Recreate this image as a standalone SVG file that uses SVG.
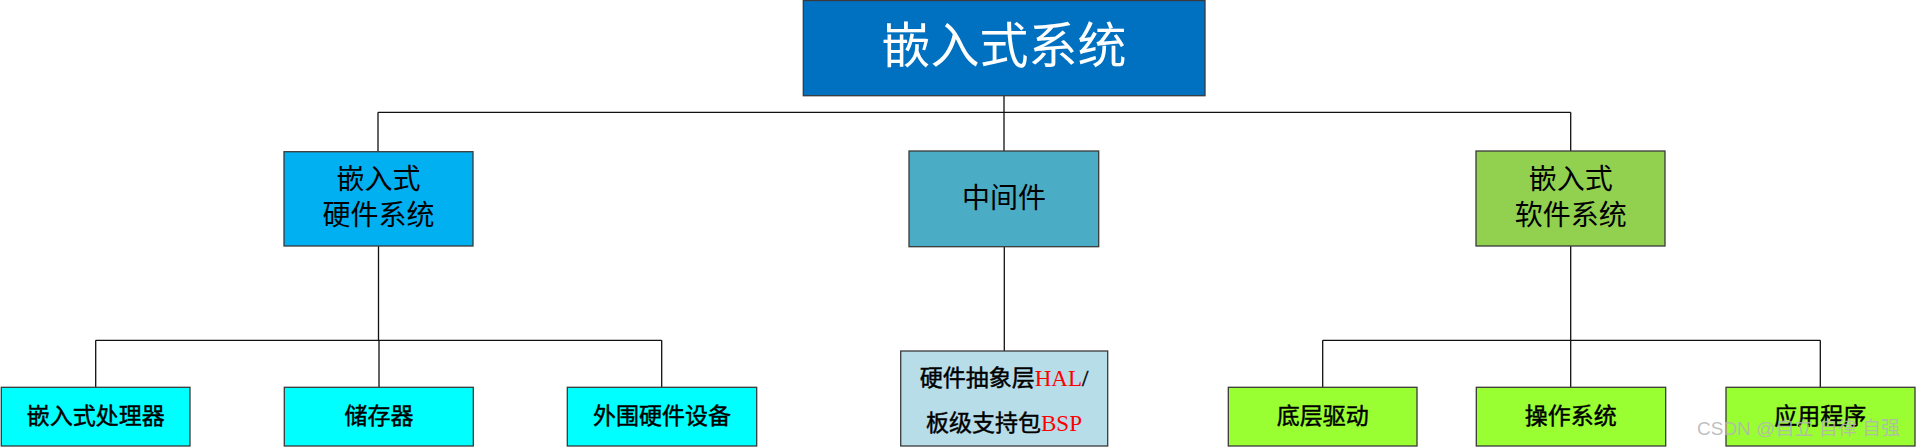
<svg xmlns="http://www.w3.org/2000/svg" width="1916" height="447" viewBox="0 0 1916 447">
<style>
.box{stroke:#3a3a3a;stroke-width:1.3}
.t{font-family:"Liberation Serif","Noto Sans CJK SC",serif;text-anchor:middle;fill:#000}
.t1{font-size:49px;fill:#fff}
.t2{font-size:28px}
.t3{font-size:23px;stroke:#000;stroke-width:0.45}
.red{fill:#ff0000;stroke:none}
.con{stroke:#111;stroke-width:1.3;fill:none}
</style>
<rect width="1916" height="447" fill="#fff"/>
<g id="connectors">
<path class="con" d="M1004 96V151M378 112.3H1570.7M378 112.3V152M1570.7 112.3V152"/>
<path class="con" d="M378.5 246V340.3M95.7 340.3H661.7M95.7 340.3V387.5M379 340.3V387.5M661.7 340.3V387.5"/>
<path class="con" d="M1004.3 246.7V351"/>
<path class="con" d="M1570.7 246V340.3M1322.7 340.3H1820.3M1322.7 340.3V387.5M1570.7 340.3V387.5M1820.3 340.3V387.5"/>
</g>
<g id="root">
<rect class="box" x="803.3" y="0.5" width="401.7" height="95.2" fill="#0070C0"/>
<text class="t t1" x="1004" y="63">嵌入式系统</text>
</g>
<g id="hw">
<rect class="box" x="284" y="151.7" width="189" height="94.3" fill="#00B0F0"/>
<text class="t t2" x="378.5" y="189">嵌入式</text>
<text class="t t2" x="378.5" y="225">硬件系统</text>
</g>
<g id="mw">
<rect class="box" x="909" y="151" width="189.7" height="95.7" fill="#4BACC6"/>
<text class="t t2" x="1004" y="208">中间件</text>
</g>
<g id="sw">
<rect class="box" x="1476" y="151" width="189" height="95" fill="#92D050"/>
<text class="t t2" x="1570.7" y="189">嵌入式</text>
<text class="t t2" x="1570.7" y="225">软件系统</text>
</g>
<g id="cpu">
<rect class="box" x="1.3" y="387.3" width="188.7" height="58.7" fill="#00FFFF"/>
<text class="t t3" x="95.7" y="424">嵌入式处理器</text>
</g>
<g id="mem">
<rect class="box" x="284.3" y="387.3" width="189" height="58.7" fill="#00FFFF"/>
<text class="t t3" x="379" y="424">储存器</text>
</g>
<g id="periph">
<rect class="box" x="567.3" y="387.3" width="189.4" height="58.7" fill="#00FFFF"/>
<text class="t t3" x="662" y="424">外围硬件设备</text>
</g>
<g id="hal">
<rect class="box" x="900.7" y="351" width="207" height="95" fill="#B7DDE8"/>
<text class="t t3" x="1004" y="386">硬件抽象层<tspan class="red">HAL</tspan>/</text>
<text class="t t3" x="1004" y="431">板级支持包<tspan class="red">BSP</tspan></text>
</g>
<g id="drv">
<rect class="box" x="1228.3" y="387.3" width="188.7" height="58.7" fill="#99FF33"/>
<text class="t t3" x="1322.7" y="424">底层驱动</text>
</g>
<g id="os">
<rect class="box" x="1476.3" y="387.3" width="189.4" height="58.7" fill="#99FF33"/>
<text class="t t3" x="1570.7" y="424">操作系统</text>
</g>
<g id="app">
<rect class="box" x="1726" y="387.3" width="189" height="58.7" fill="#99FF33"/>
<text class="t t3" x="1820.3" y="424">应用程序</text>
</g>
<text x="1697" y="435" font-family="Liberation Sans,'Noto Sans CJK SC',sans-serif" font-size="19" fill="#b4b4b4" fill-opacity="0.85">CSDN @自立 自律 自强</text>
</svg>
